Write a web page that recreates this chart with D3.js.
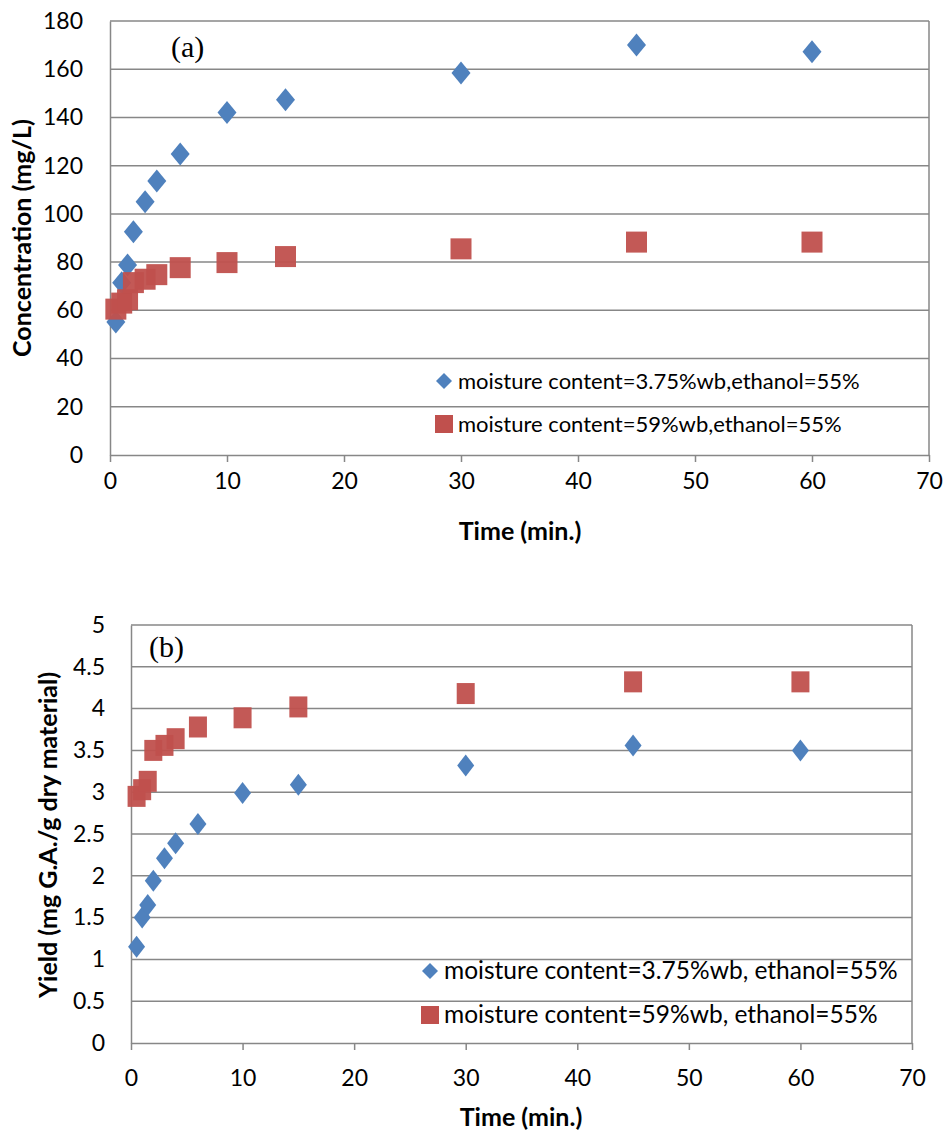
<!DOCTYPE html>
<html>
<head>
<meta charset="utf-8">
<script src="https://cdn.jsdelivr.net/npm/d3@7"></script>
<style>
  body { margin: 0; background: #fff; }
  svg text { font-family: Lato, "Open Sans", sans-serif; fill: #000; }
</style>
</head>
<body>
<div id="chart"></div>
<script>
// time points (min.)
const timeA = [0.5, 1, 1.5, 2, 3, 4, 6, 10, 15, 30, 45, 60];
const timeB = [0.5, 1, 1.5, 2, 3, 4, 6, 10, 15, 30, 45, 60];

// (a) concentration, mg/L
const concDry = [55.2, 71.4, 78.8, 92.6, 105, 113.6, 124.8, 142, 147.3, 158.4, 170, 167.2];
const concWet = [60.5, 63, 64.4, 71.5, 72.9, 74.8, 77.7, 79.8, 82.3, 85.5, 88.3, 88.3];

// (b) yield, mg G.A./g dry material
const yieldDry = [1.15, 1.5, 1.65, 1.94, 2.21, 2.39, 2.62, 2.99, 3.09, 3.32, 3.56, 3.5];
const yieldWet = [2.95, 3.03, 3.13, 3.5, 3.56, 3.64, 3.78, 3.89, 4.02, 4.18, 4.32, 4.32];

const xTicks = [0, 10, 20, 30, 40, 50, 60, 70];
const yTicksA = [0, 20, 40, 60, 80, 100, 120, 140, 160, 180];
const yTicksB = [0, 0.5, 1, 1.5, 2, 2.5, 3, 3.5, 4, 4.5, 5];

const legendA = ['moisture content=3.75%wb,ethanol=55%', 'moisture content=59%wb,ethanol=55%'];
const legendB = ['moisture content=3.75%wb, ethanol=55%', 'moisture content=59%wb, ethanol=55%'];

const blue = '#4f81bd', red = '#c0504d', grid = '#878787';

const svg = d3.select('#chart').append('svg')
  .attr('width', 946).attr('height', 1131);

function diamond(w, h) {
  return `M0,${-h / 2}L${w / 2},0L0,${h / 2}L${-w / 2},0Z`;
}

function panel(cfg) {
  const x = d3.scaleLinear().domain([0, 70]).range([cfg.left, cfg.right]);
  const y = d3.scaleLinear().domain(cfg.yDomain).range([cfg.bottom, cfg.top]);
  const g = svg.append('g');

  // horizontal grid
  g.selectAll('line.grid').data(cfg.yTicks.slice(1)).enter().append('line')
    .attr('x1', cfg.left).attr('x2', cfg.right)
    .attr('y1', d => y(d)).attr('y2', d => y(d))
    .attr('stroke', grid).attr('stroke-width', 1.5);
  // right border
  g.append('line').attr('x1', cfg.right).attr('x2', cfg.right)
    .attr('y1', cfg.top).attr('y2', cfg.bottom)
    .attr('stroke', grid).attr('stroke-width', 1.5);

  const xAxis = g.append('g').attr('transform', `translate(0,${cfg.bottom})`)
    .call(d3.axisBottom(x).tickValues(xTicks).tickSize(7).tickPadding(cfg.xPad).tickSizeOuter(0));
  const yAxis = g.append('g').attr('transform', `translate(${cfg.left},0)`)
    .call(d3.axisLeft(y).tickValues(cfg.yTicks).tickSize(0).tickPadding(cfg.yPad).tickSizeOuter(0)
      .tickFormat(d3.format('')));
  [xAxis, yAxis].forEach(a => {
    a.attr('font-size', 23).attr('font-family', null);
    a.select('.domain').attr('stroke', grid).attr('stroke-width', 1.5);
    a.selectAll('.tick line').attr('stroke', grid).attr('stroke-width', 1.5);
    a.selectAll('.tick text').style('font-size', '23px').attr('fill', '#000');
  });

  // series
  g.selectAll('rect.wet').data(cfg.time).enter().append('rect')
    .attr('x', d => x(d) - cfg.sq[0] / 2)
    .attr('y', (d, i) => y(cfg.wet[i]) - cfg.sq[1] / 2)
    .attr('width', cfg.sq[0]).attr('height', cfg.sq[1])
    .attr('fill', red).attr('fill-opacity', 0.95);
  g.selectAll('path.dry').data(cfg.time).enter().append('path')
    .attr('d', diamond(cfg.dm[0], cfg.dm[1]))
    .attr('transform', (d, i) => `translate(${x(d)},${y(cfg.dry[i])})`)
    .attr('fill', blue);
  if (cfg.redOnTop) g.selectAll('rect').raise();

  // panel tag
  g.append('text').attr('x', cfg.tag[0]).attr('y', cfg.tag[1])
    .style('font-family', '"Liberation Serif", serif').style('font-size', '30px')
    .text(cfg.tagText);

  // axis titles
  g.append('text').attr('x', cfg.xTitle[0]).attr('y', cfg.xTitle[1])
    .attr('text-anchor', 'middle').style('font-weight', 'bold').style('font-size', '25px')
    .text('Time (min.)');
  g.append('text')
    .attr('transform', `translate(${cfg.yTitle[0]},${cfg.yTitle[1]}) rotate(-90)`)
    .attr('text-anchor', 'middle').style('font-weight', 'bold').style('font-size', '25px')
    .text(cfg.yTitleText);

  // legend
  const lg = g.append('g');
  lg.append('path').attr('d', diamond(16, 16))
    .attr('transform', `translate(${cfg.leg[0]},${cfg.leg[1]})`).attr('fill', blue);
  lg.append('rect').attr('x', cfg.leg[0] - 9).attr('y', cfg.leg[1] + cfg.legGap - 9)
    .attr('width', 18).attr('height', 18).attr('fill', red);
  lg.selectAll('text').data(cfg.legText).enter().append('text')
    .attr('x', cfg.leg[0] + 14).attr('y', (d, i) => cfg.leg[1] + i * cfg.legGap + 8)
    .style('font-size', cfg.legSize + 'px')
    .text(d => d);
}

panel({
  left: 110, right: 929, top: 21, bottom: 455,
  yDomain: [0, 180], yTicks: yTicksA, yPad: 27, xPad: 11,
  time: timeA, dry: concDry, wet: concWet,
  sq: [21, 21], dm: [19, 23], redOnTop: true,
  tag: [171, 57], tagText: '(a)',
  xTitle: [520, 540], yTitle: [31, 238], yTitleText: 'Concentration (mg/L)',
  leg: [444, 381], legGap: 43, legText: legendA, legSize: 22
});

panel({
  left: 131, right: 912, top: 625, bottom: 1043,
  yDomain: [0, 5], yTicks: yTicksB, yPad: 26, xPad: 20,
  time: timeB, dry: yieldDry, wet: yieldWet,
  sq: [18, 21], dm: [17, 22], redOnTop: false,
  tag: [149, 657], tagText: '(b)',
  xTitle: [521, 1126], yTitle: [57, 835], yTitleText: 'Yield (mg G.A./g dry material)',
  leg: [430, 971], legGap: 44, legText: legendB, legSize: 24.5
});
</script>
</body>
</html>
